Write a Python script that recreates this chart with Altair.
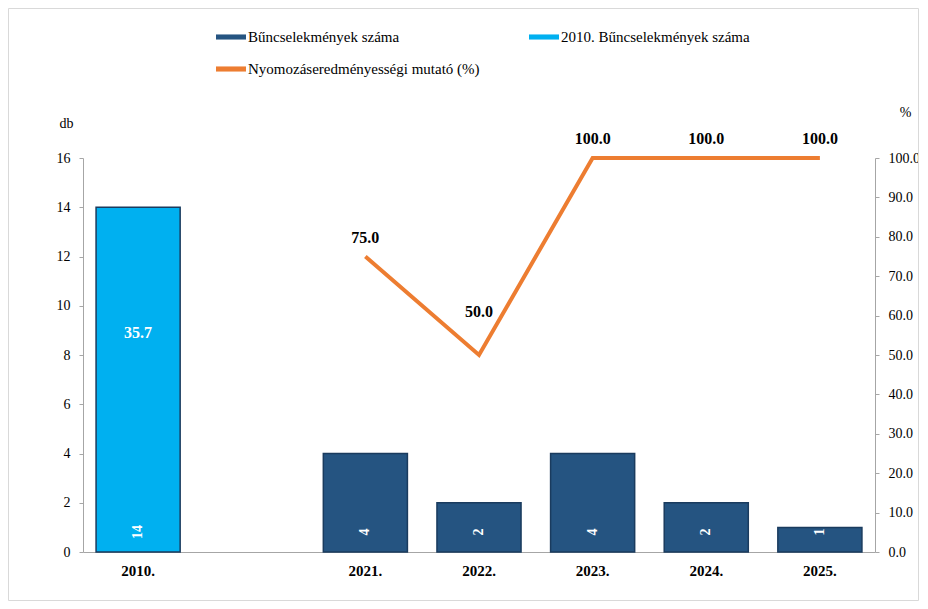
import altair as alt
import pandas as pd

categories = ["2010.", " ", "2021.", "2022.", "2023.", "2024.", "2025."]
bar_years = ["2010.", "2021.", "2022.", "2023.", "2024.", "2025."]
bar_counts = [14, 4, 2, 4, 2, 1]
bar_series = ["2010. Bűncselekmények száma"] + ["Bűncselekmények száma"] * 5
line_years = ["2021.", "2022.", "2023.", "2024.", "2025."]
line_pct = [75.0, 50.0, 100.0, 100.0, 100.0]
pct_2010_year = ["2010."]
pct_2010 = [35.7]
series_names = ["Bűncselekmények száma", "2010. Bűncselekmények száma",
                "Nyomozáseredményességi mutató (%)"]
series_colors = ["#255481", "#00B0F0", "#ED7D31"]
left_ticks = [0, 2, 4, 6, 8, 10, 12, 14, 16]
right_ticks = [0, 10, 20, 30, 40, 50, 60, 70, 80, 90, 100]

FONT = "Liberation Serif"
W, H = 792, 394

bars_df = pd.DataFrame({"year": bar_years, "count": bar_counts, "series": bar_series})
line_df = pd.DataFrame({"year": line_years, "pct": line_pct,
                        "label": [f"{v:.1f}" for v in line_pct]})
extra_df = pd.DataFrame({"year": pct_2010_year, "pct": pct_2010,
                         "label": [f"{v:.1f}" for v in pct_2010]})

x_enc = alt.X("year:N",
              scale=alt.Scale(domain=categories, paddingInner=0.26, paddingOuter=0.115),
              axis=alt.Axis(title=None, labelAngle=0, labelFont=FONT, labelFontSize=15,
                            labelFontWeight="bold", labelColor="black", ticks=False,
                            labelPadding=11, domainColor="#a6a6a6"))

left_scale = alt.Scale(domain=[0, 16], nice=False)
right_scale = alt.Scale(domain=[0, 100], nice=False)

bars = alt.Chart(bars_df).mark_bar(stroke="#1A3B5E", strokeWidth=1.5).encode(
    x=x_enc,
    y=alt.Y("count:Q", scale=left_scale,
            axis=alt.Axis(orient="left", title="db", titleAngle=0, titleX=-17, titleY=-35,
                          titleAlign="center", titleBaseline="middle",
                          titleFont=FONT, titleFontSize=14, titleFontWeight="normal",
                          titleColor="black", values=left_ticks, grid=False,
                          labelFont=FONT, labelFontSize=14, labelColor="black",
                          tickSize=4, tickColor="#a6a6a6", domainColor="#a6a6a6",
                          labelPadding=9)),
    color=alt.Color("series:N",
                    scale=alt.Scale(domain=series_names, range=series_colors),
                    legend=alt.Legend(title=None, orient="none", legendX=133, legendY=-136,
                                      columns=2, columnPadding=49,
                                      rowPadding=9, direction="horizontal",
                                      symbolType="M-1,-0.17H1V0.17H-1Z", symbolSize=900,
                                      symbolStrokeWidth=0, labelFont=FONT,
                                      labelFontSize=15, labelColor="black",
                                      labelLimit=0, labelOffset=2)),
)

bar_text = alt.Chart(bars_df).transform_calculate(base="0").mark_text(
    angle=270, align="center", baseline="middle", dx=20,
    font=FONT, fontSize=14, fontWeight="bold", color="white"
).encode(
    x=x_enc,
    y=alt.Y("base:Q", scale=left_scale, axis=None),
    text=alt.Text("count:Q"),
)

line = alt.Chart(line_df).mark_line(color="#ED7D31", strokeWidth=4).encode(
    x=x_enc,
    y=alt.Y("pct:Q", scale=right_scale,
            axis=alt.Axis(orient="right", title="%", titleAngle=0, titleX=30, titleY=-46,
                          titleAlign="center", titleBaseline="middle",
                          titleFont=FONT, titleFontSize=14, titleFontWeight="normal",
                          titleColor="black", values=right_ticks, format=".1f",
                          grid=False, labelFont=FONT, labelFontSize=14,
                          labelColor="black", tickSize=4, tickColor="#a6a6a6",
                          domainColor="#a6a6a6", labelPadding=9)),
)

line_text_hi = alt.Chart(line_df).transform_filter("datum.pct >= 60").mark_text(
    dy=-19, font=FONT, fontSize=16, fontWeight="bold", color="black"
).encode(
    x=x_enc,
    y=alt.Y("pct:Q", scale=right_scale, axis=None),
    text="label:N",
)

line_text_lo = alt.Chart(line_df).transform_filter("datum.pct < 60").mark_text(
    dy=-43, font=FONT, fontSize=16, fontWeight="bold", color="black"
).encode(
    x=x_enc,
    y=alt.Y("pct:Q", scale=right_scale, axis=None),
    text="label:N",
)

extra_text = alt.Chart(extra_df).mark_text(
    dy=-78, font=FONT, fontSize=16, fontWeight="bold", color="white"
).encode(
    x=x_enc,
    y=alt.Y("pct:Q", scale=right_scale, axis=None),
    text="label:N",
)

frame = alt.Chart(pd.DataFrame({"a": [0]})).mark_rect(
    fill=None, stroke="#d9d9d9", strokeWidth=1
).encode(
    x=alt.value(-74.5), x2=alt.value(W + 43.5),
    y=alt.value(-149.5), y2=alt.value(H + 48.5),
)

chart = alt.layer(
    bars, line, bar_text, line_text_hi, line_text_lo, extra_text, frame
).resolve_scale(y="independent").properties(
    width=W, height=H,
    background="white",
    autosize=alt.AutoSizeParams(type="none"),
    padding={"left": 75, "top": 150, "right": 44, "bottom": 49},
).configure(font=FONT).configure_view(stroke=None).configure_axis(
    labelFont=FONT, titleFont=FONT
).configure_legend(labelFont=FONT, labelFontSize=15)

chart.save("out.html", embed_options={"renderer": "svg", "actions": False})
